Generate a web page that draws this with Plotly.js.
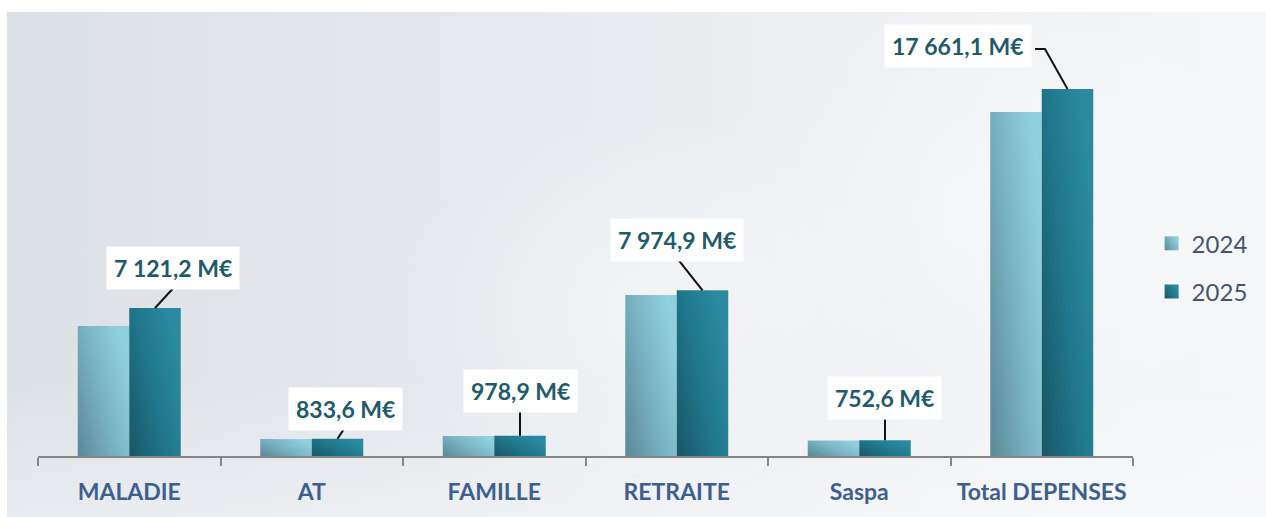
<!DOCTYPE html>
<html><head><meta charset="utf-8">
<script src="https://cdn.plot.ly/plotly-3.0.1.min.js"></script>
<style>
html,body{margin:0;padding:0;background:#fff;overflow:hidden}
#bg{position:absolute;left:7px;top:12px;width:1259px;height:505px;
background:
 radial-gradient(ellipse 260px 200px at 640px 300px, rgba(255,255,255,0.45), rgba(255,255,255,0)),
 radial-gradient(ellipse 320px 220px at 1000px 200px, rgba(255,255,255,0.35), rgba(255,255,255,0)),
 linear-gradient(to bottom, rgba(255,255,255,0) 72%, rgba(255,255,255,0.35) 100%),
 linear-gradient(to right,#dce1e6 0%,#e3e7eb 30%,#eaedf0 55%,#f1f3f5 80%,#f5f6f8 100%);}
#chart{position:absolute;left:0;top:0;width:1266px;height:517px}
</style></head><body>
<div id="bg"></div><div id="chart"></div>
<script>
// ---- data ----
const categories = ['MALADIE','AT','FAMILLE','RETRAITE','Saspa','Total DEPENSES'];
const values2024 = [6250, 820, 965, 7750, 745, 16550];
const values2025 = [7121.2, 833.6, 978.9, 7974.9, 752.6, 17661.1];
const labels2025 = ['7 121,2 M€','833,6 M€','978,9 M€','7 974,9 M€','752,6 M€','17 661,1 M€'];
const seriesNames = ['2024','2025'];

// ---- layout config (positions of callouts, in pixels relative to bar top) ----
const labelShift = [[17.5,40],[7.5,30],[0,45],[-25.5,50],[-1,42],[-109.5,43]];
const leaderPaths = [
  'M0,0 L17.5,19',
  'M0,0 L8,12',
  'M0,0 L0,29',
  'M0,0 L-24.5,31',
  'M0,0 L0,21',
  'M0,0 L-22.5,40 L-32.5,40'
];
const bargap = 0.4356;
const FONT = 'Lato, "Open Sans", sans-serif';

const traces = [
  {type:'bar', name:seriesNames[0], x:categories, y:values2024, legendgroup:'a',
   marker:{color:'#76b0c0'}, hoverinfo:'skip'},
  {type:'bar', name:seriesNames[1], x:categories, y:values2025, legendgroup:'b',
   marker:{color:'#227a8e'}, hoverinfo:'skip'}
];

const barOffset = (1 - bargap) / 4; // center of 2nd bar, in category units
const annotations = categories.map((c,i)=>({
  x: i + barOffset, y: values2025[i], xref:'x', yref:'y',
  text: labels2025[i], showarrow:false,
  xshift: labelShift[i][0], yshift: labelShift[i][1],
  bgcolor:'#ffffff', borderpad:7,
  font:{family:FONT, size:23, color:'#225a6a', weight:'bold'}
}));
const shapes = categories.map((c,i)=>({
  type:'path', xref:'x', yref:'y', xsizemode:'pixel', ysizemode:'pixel',
  xanchor: i + barOffset, yanchor: values2025[i],
  path: leaderPaths[i], line:{color:'#111111', width:2}
}));

const layout = {
  width:1266, height:517,
  margin:{l:38, r:133, t:20, b:61},
  paper_bgcolor:'rgba(0,0,0,0)', plot_bgcolor:'rgba(0,0,0,0)',
  barmode:'group', bargap:bargap, bargroupgap:0,
  font:{family:FONT},
  xaxis:{type:'category', showline:true, linecolor:'#858585', linewidth:2,
    ticks:'outside', tickson:'boundaries', ticklen:8, tickcolor:'#858585', tickwidth:2,
    showgrid:false, zeroline:false, ticklabelstandoff:14,
    tickfont:{family:FONT, size:23, color:'#3e5f8e', weight:'bold'}},
  yaxis:{range:[0,20981], visible:false, showgrid:false, zeroline:false},
  showlegend:true,
  legend:{x:1.017, xanchor:'left', y:0.432, yanchor:'middle', tracegroupgap:14,
    traceorder:'grouped', bgcolor:'rgba(0,0,0,0)',
    font:{family:FONT, size:24, color:'#44546a'}},
  annotations:annotations, shapes:shapes
};

Plotly.newPlot('chart', traces, layout, {staticPlot:true, displayModeBar:false}).then(gd=>{
  const svg = gd.querySelector('.main-svg');
  const ns = 'http://www.w3.org/2000/svg';
  let defs = svg.querySelector('defs');
  if(!defs){defs = document.createElementNS(ns,'defs'); svg.insertBefore(defs, svg.firstChild);}
  const grads = {g2024:[['0','#5a8896'],['0.55','#79b4c4'],['1','#90d0de']],
                 g2025:[['0','#185667'],['0.55','#21788c'],['1','#2a8ba0']]};
  for(const id in grads){
    const lg = document.createElementNS(ns,'linearGradient');
    lg.setAttribute('id',id);
    lg.setAttribute('x1','0'); lg.setAttribute('y1','1');
    lg.setAttribute('x2','1'); lg.setAttribute('y2','0.35');
    grads[id].forEach(([o,c])=>{
      const st = document.createElementNS(ns,'stop');
      st.setAttribute('offset',o); st.setAttribute('stop-color',c);
      lg.appendChild(st);
    });
    defs.appendChild(lg);
  }
  const ids = ['g2024','g2025'];
  gd.querySelectorAll('.barlayer .trace').forEach((t,k)=>{
    t.querySelectorAll('path').forEach(p=>{ p.style.fill = 'url(#'+ids[k]+')'; });
  });
  gd.querySelectorAll('.legend .traces').forEach((t,k)=>{
    t.querySelectorAll('.legendpoints path').forEach(p=>{
      p.setAttribute('d','M7,7H-7V-7H7Z');
      p.style.fill = 'url(#'+ids[k]+')';
    });
  });
});
</script>
</body></html>
